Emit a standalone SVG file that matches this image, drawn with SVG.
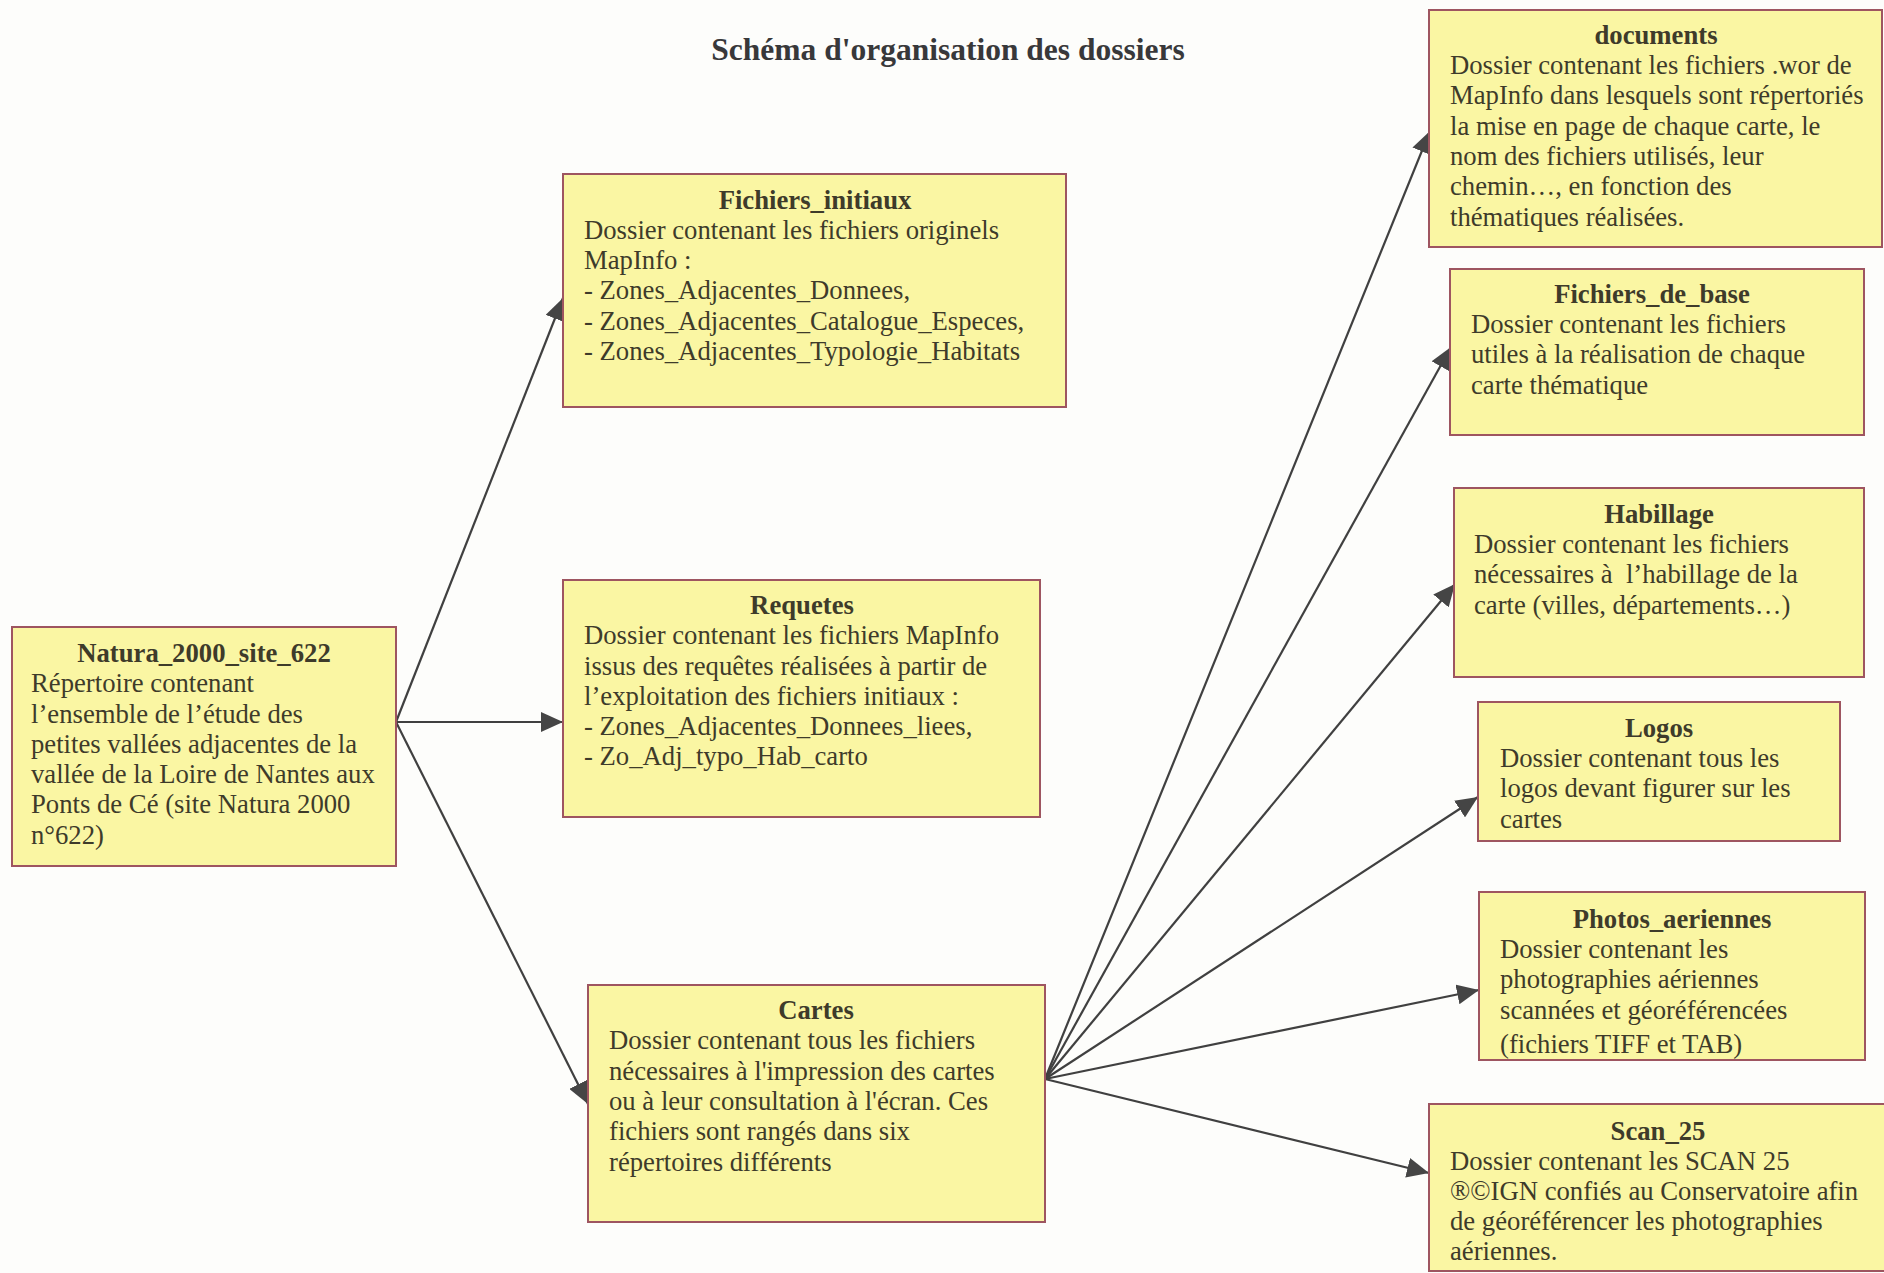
<svg xmlns="http://www.w3.org/2000/svg" width="1884" height="1273" viewBox="0 0 1884 1273">
<style>
.box{fill:#FAF6A3;stroke:#9E5560;stroke-width:2}
text{font-family:"Liberation Serif","Times New Roman",serif;fill:#3E3B2A;font-size:26.7px}
.t{font-weight:bold;text-anchor:middle}
.h{font-weight:bold;text-anchor:middle;font-size:31.5px;fill:#38383A}
.c{stroke:#404040;stroke-width:2.2;fill:none;marker-end:url(#ah)}
</style>
<defs>
<marker id="ah" markerUnits="userSpaceOnUse" markerWidth="23" markerHeight="20" refX="22" refY="10" orient="auto">
<path d="M0,0 L22,10 L0,20 z" fill="#454545"/>
</marker>
</defs>
<rect x="0" y="0" width="1884" height="1273" fill="#FDFDFB"/>
<text class="h" x="948" y="60">Schéma d'organisation des dossiers</text>

<g id="connectors">
<line class="c" x1="396" y1="722" x2="563" y2="298"/>
<line class="c" x1="396" y1="722" x2="563" y2="722"/>
<line class="c" x1="396" y1="722" x2="588" y2="1104"/>
<line class="c" x1="1045" y1="1079" x2="1430" y2="131"/>
<line class="c" x1="1045" y1="1079" x2="1451" y2="347"/>
<line class="c" x1="1045" y1="1079" x2="1455" y2="584"/>
<line class="c" x1="1045" y1="1079" x2="1478" y2="797"/>
<line class="c" x1="1045" y1="1079" x2="1479" y2="990"/>
<line class="c" x1="1045" y1="1079" x2="1429" y2="1173"/>
</g>

<g id="natura">
<rect class="box" x="12" y="627" width="384" height="239"/>
<text class="t" x="204" y="662">Natura_2000_site_622</text>
<text x="31" y="692">Répertoire contenant</text>
<text x="31" y="722.5">l’ensemble de l’étude des</text>
<text x="31" y="753">petites vallées adjacentes de la</text>
<text x="31" y="783">vallée de la Loire de Nantes aux</text>
<text x="31" y="813">Ponts de Cé (site Natura 2000</text>
<text x="31" y="844">n°622)</text>
</g>

<g id="fichiers_initiaux">
<rect class="box" x="563" y="174" width="503" height="233"/>
<text class="t" x="815" y="209">Fichiers_initiaux</text>
<text x="584" y="239">Dossier contenant les fichiers originels</text>
<text x="584" y="269">MapInfo :</text>
<text x="584" y="299">- Zones_Adjacentes_Donnees,</text>
<text x="584" y="330">- Zones_Adjacentes_Catalogue_Especes,</text>
<text x="584" y="360">- Zones_Adjacentes_Typologie_Habitats</text>
</g>

<g id="requetes">
<rect class="box" x="563" y="580" width="477" height="237"/>
<text class="t" x="802" y="614">Requetes</text>
<text x="584" y="644">Dossier contenant les fichiers MapInfo</text>
<text x="584" y="675">issus des requêtes réalisées à partir de</text>
<text x="584" y="705">l’exploitation des fichiers initiaux :</text>
<text x="584" y="735">- Zones_Adjacentes_Donnees_liees,</text>
<text x="584" y="765">- Zo_Adj_typo_Hab_carto</text>
</g>

<g id="cartes">
<rect class="box" x="588" y="985" width="457" height="237"/>
<text class="t" x="816" y="1019">Cartes</text>
<text x="609" y="1049">Dossier contenant tous les fichiers</text>
<text x="609" y="1080">nécessaires à l'impression des cartes</text>
<text x="609" y="1110">ou à leur consultation à l'écran. Ces</text>
<text x="609" y="1140">fichiers sont rangés dans six</text>
<text x="609" y="1171">répertoires différents</text>
</g>

<g id="documents">
<rect class="box" x="1429" y="10" width="453" height="237"/>
<text class="t" x="1656" y="44">documents</text>
<text x="1450" y="74">Dossier contenant les fichiers .wor de</text>
<text x="1450" y="104">MapInfo dans lesquels sont répertoriés</text>
<text x="1450" y="135">la mise en page de chaque carte, le</text>
<text x="1450" y="165">nom des fichiers utilisés, leur</text>
<text x="1450" y="195">chemin…, en fonction des</text>
<text x="1450" y="226">thématiques réalisées.</text>
</g>

<g id="fichiers_de_base">
<rect class="box" x="1450" y="269" width="414" height="166"/>
<text class="t" x="1652" y="303">Fichiers_de_base</text>
<text x="1471" y="333">Dossier contenant les fichiers</text>
<text x="1471" y="363">utiles à la réalisation de chaque</text>
<text x="1471" y="394">carte thématique</text>
</g>

<g id="habillage">
<rect class="box" x="1454" y="488" width="410" height="189"/>
<text class="t" x="1659" y="523">Habillage</text>
<text x="1474" y="553">Dossier contenant les fichiers</text>
<text x="1474" y="583" xml:space="preserve">nécessaires à  l’habillage de la</text>
<text x="1474" y="614">carte (villes, départements…)</text>
</g>

<g id="logos">
<rect class="box" x="1478" y="702" width="362" height="139"/>
<text class="t" x="1659" y="737">Logos</text>
<text x="1500" y="767">Dossier contenant tous les</text>
<text x="1500" y="797">logos devant figurer sur les</text>
<text x="1500" y="828">cartes</text>
</g>

<g id="photos_aeriennes">
<rect class="box" x="1479" y="892" width="386" height="168"/>
<text class="t" x="1672" y="928">Photos_aeriennes</text>
<text x="1500" y="958">Dossier contenant les</text>
<text x="1500" y="988">photographies aériennes</text>
<text x="1500" y="1019">scannées et géoréférencées</text>
<text x="1500" y="1053">(fichiers TIFF et TAB)</text>
<rect x="1479" y="892" width="386" height="168" fill="none" stroke="#9E5560" stroke-width="2"/>
</g>

<g id="scan_25">
<rect class="box" x="1429" y="1104" width="470" height="167"/>
<text class="t" x="1658" y="1140">Scan_25</text>
<text x="1450" y="1170">Dossier contenant les SCAN 25</text>
<text x="1450" y="1200">®©IGN confiés au Conservatoire afin</text>
<text x="1450" y="1230">de géoréférencer les photographies</text>
<text x="1450" y="1260">aériennes.</text>
</g>
</svg>
